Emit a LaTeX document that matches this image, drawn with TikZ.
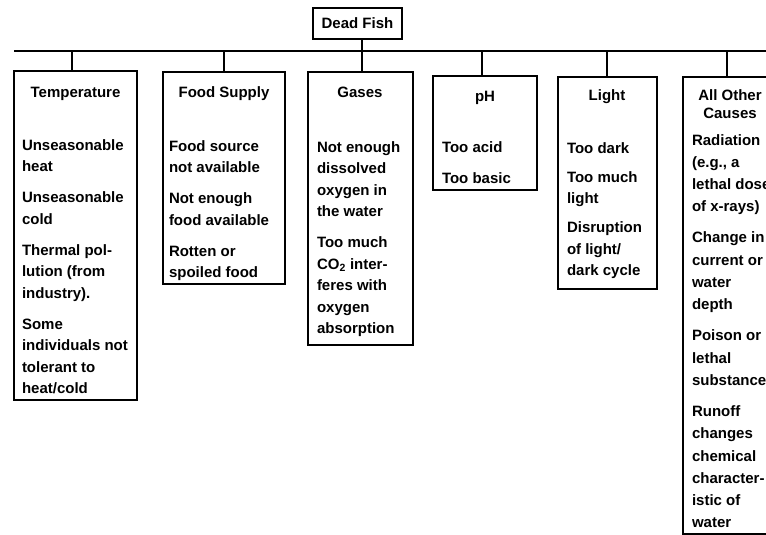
\documentclass[tikz,border=0pt]{standalone}
\usepackage{fontspec}
\setmainfont{Liberation Sans}
\begin{document}
\begin{tikzpicture}[x=1pt,y=-1pt,
  every node/.style={inner sep=0pt, outer sep=0pt},
  box/.style={draw, line width=1.5pt, rectangle, anchor=north west},
  conn/.style={line width=1.5pt},
  ttl/.style={font=\fontsize{15}{18}\selectfont\bfseries, align=center, anchor=base},
  itm/.style={font=\fontsize{15}{21.5}\selectfont\bfseries, align=left, anchor=north west},
  itmwide/.style={font=\fontsize{15}{22.3}\selectfont\bfseries, align=left, anchor=north west},
]
\useasboundingbox (0,0) rectangle (766,535);
\fill[white] (0,0) rectangle (766,535);
\clip (0,0) rectangle (766,535);

% root
\node[draw, line width=1.5pt, minimum width=89pt, minimum height=31pt,
      font=\fontsize{15}{18}\selectfont\bfseries] (deadfish) at (357.5,23.5) {Dead Fish};

% boxes
\node[box, minimum width=123pt, minimum height=329pt] (tempbox) at (14,71) {};
\node[box, minimum width=122pt, minimum height=212pt] (foodbox) at (163,72) {};
\node[box, minimum width=105pt, minimum height=273pt] (gasbox) at (308,72) {};
\node[box, minimum width=104pt, minimum height=114pt] (phbox) at (433,76) {};
\node[box, minimum width=99pt, minimum height=212pt] (lightbox) at (558,77) {};
\node[box, minimum width=120pt, minimum height=457pt] (otherbox) at (683,77) {};

% titles
\node[ttl] (temptitle) at (75.5,97) {Temperature};
\node[ttl] (foodtitle) at (224,97) {Food Supply};
\node[ttl] (gastitle) at (360,98) {Gases};
\node[ttl] (phtitle) at (485,101) {pH};
\node[ttl] (lighttitle) at (607,100) {Light};
\node[ttl, anchor=north] (othertitle) at (730,87.4) {\strut All Other\\Causes};

% items
\node[itm] (tempitems) at (22,134.95) {\strut Unseasonable\\heat\\[9.5pt]Unseasonable\\cold\\[9.5pt]Thermal pol-\\lution (from\\industry).\\[9.5pt]Some\\individuals not\\tolerant to\\heat/cold};
\node[itm] (fooditems) at (169,135.95) {\strut Food source\\not available\\[9.5pt]Not enough\\food available\\[9.5pt]Rotten or\\spoiled food};
\node[itm] (gasitems) at (317,136.95) {\strut Not enough\\dissolved\\oxygen in\\the water\\[9.5pt]Too much\\CO\textsubscript{2} inter-\\feres with\\oxygen\\absorption};
\node[itm] (phitems) at (442,136.95) {\strut Too acid\\[9.5pt]Too basic};
\node[itm] (lightitems) at (567,137.95) {\strut Too dark\\[7.5pt]Too much\\light\\[7.5pt]Disruption\\of light/\\dark cycle};
\node[itmwide] (otheritems) at (692,129.39) {\strut Radiation\\(e.g., a\\lethal dose\\of x-rays)\\[8.7pt]Change in\\current or\\water\\depth\\[8.7pt]Poison or\\lethal\\substance\\[8.7pt]Runoff\\changes\\chemical\\character-\\istic of\\water};

% connectors
\coordinate (busL) at (14,51);
\coordinate (busR) at (766,51);
\coordinate (dT) at (72,51);
\coordinate (dF) at (224,51);
\coordinate (dG) at (362,51);
\coordinate (dP) at (482,51);
\coordinate (dL) at (607,51);
\coordinate (dO) at (727,51);
\draw[conn] (busL) -- (busR);
\draw[conn] (dT) -- (dT |- tempbox.north);
\draw[conn] (dF) -- (dF |- foodbox.north);
\draw[conn] (dG |- deadfish.south) -- (dG |- gasbox.north);
\draw[conn] (dP) -- (dP |- phbox.north);
\draw[conn] (dL) -- (dL |- lightbox.north);
\draw[conn] (dO) -- (dO |- otherbox.north);
\end{tikzpicture}
\end{document}
